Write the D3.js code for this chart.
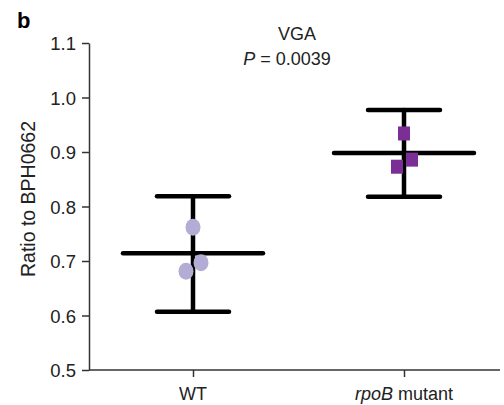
<!DOCTYPE html>
<html>
<head>
<meta charset="utf-8">
<script src="https://cdn.jsdelivr.net/npm/d3@7"></script>
<style>
	body { margin: 0; background: #fff; }
	text { font-family: "Liberation Sans", Arial, sans-serif; fill: #222; }
</style>
</head>
<body>
<div id="chart"></div>
<script>
const categories = ["WT", "rpoB mutant"];
const wtValues = [0.762, 0.697, 0.681];
const mutantValues = [0.934, 0.886, 0.873];
const means = [0.714, 0.898];
const upper = [0.819, 0.977];
const lower = [0.607, 0.818];
const yTicks = [0.5, 0.6, 0.7, 0.8, 0.9, 1.0, 1.1];

const width = 504, height = 405;
const plotLeft = 89, plotRight = 500, plotTop = 43, plotBottom = 370;

const svg = d3.select("#chart")
	.append("svg")
	.attr("width", width)
	.attr("height", height);

const y = d3.scaleLinear().domain([0.5, 1.1]).range([plotBottom, plotTop]);
const x = d3.scalePoint().domain(categories).range([193, 404]);

// y axis
const yAxis = svg.append("g")
	.attr("transform", `translate(${plotLeft},0)`)
	.call(d3.axisLeft(y).tickValues(yTicks).tickFormat(d3.format(".1f")).tickSize(7).tickSizeOuter(0));
yAxis.select(".domain").attr("stroke", "#333").attr("stroke-width", 1.5);
yAxis.selectAll(".tick line").attr("stroke", "#333").attr("stroke-width", 1.5);
yAxis.selectAll(".tick text")
	.attr("x", -13)
	.attr("dy", "0.36em")
	.style("font-size", "18.5px")
	.style("font-family", "Liberation Sans, Arial, sans-serif")
	.attr("fill", "#222");

// x axis
svg.append("line")
	.attr("x1", plotLeft).attr("x2", plotRight)
	.attr("y1", plotBottom).attr("y2", plotBottom)
	.attr("stroke", "#333").attr("stroke-width", 1.5);
const xAxis = svg.append("g")
	.attr("transform", `translate(0,${plotBottom})`)
	.call(d3.axisBottom(x).tickSize(7).tickSizeOuter(0).tickFormat(""));
xAxis.select(".domain").remove();
xAxis.selectAll(".tick line").attr("stroke", "#333").attr("stroke-width", 1.5);

// x labels (rpoB italic)
const xl = svg.append("g").selectAll("text")
	.data(categories)
	.enter()
	.append("text")
	.attr("x", (d) => x(d))
	.attr("y", 400)
	.attr("text-anchor", "middle")
	.style("font-size", "18px");
xl.each(function (d) {
	const t = d3.select(this);
	if (d.startsWith("rpoB")) {
		t.append("tspan").style("font-style", "italic").text("rpoB");
		t.append("tspan").text(d.slice(4));
	} else {
		t.text(d);
	}
});

// y label
svg.append("text")
	.attr("transform", "translate(35,199) rotate(-90)")
	.attr("text-anchor", "middle")
	.style("font-size", "19.5px")
	.text("Ratio to BPH0662");

// panel letter and titles
svg.append("text")
	.attr("x", 17).attr("y", 28)
	.style("font-size", "22px")
	.style("font-weight", "bold")
	.style("fill", "#000")
	.text("b");

svg.append("text")
	.attr("x", 297).attr("y", 40)
	.attr("text-anchor", "middle")
	.style("font-size", "18px")
	.text("VGA");

const pt = svg.append("text")
	.attr("x", 287).attr("y", 65)
	.attr("text-anchor", "middle")
	.style("font-size", "18px");
pt.append("tspan").style("font-style", "italic").text("P");
pt.append("tspan").text(" = 0.0039");

// error bars
const bars = svg.append("g")
	.selectAll("g")
	.data(categories)
	.enter()
	.append("g")
	.attr("stroke", "#000")
	.attr("stroke-width", 4.5)
	.attr("stroke-linecap", "round");

bars.append("line")
	.attr("x1", (d) => x(d)).attr("x2", (d) => x(d))
	.attr("y1", (d, i) => y(upper[i])).attr("y2", (d, i) => y(lower[i]));
bars.append("line")
	.attr("x1", (d) => x(d) - 36).attr("x2", (d) => x(d) + 36)
	.attr("y1", (d, i) => y(upper[i])).attr("y2", (d, i) => y(upper[i]));
bars.append("line")
	.attr("x1", (d) => x(d) - 36).attr("x2", (d) => x(d) + 36)
	.attr("y1", (d, i) => y(lower[i])).attr("y2", (d, i) => y(lower[i]));
bars.append("line")
	.attr("x1", (d) => x(d) - 70).attr("x2", (d) => x(d) + 70)
	.attr("y1", (d, i) => y(means[i])).attr("y2", (d, i) => y(means[i]));

// points
const jitter = [0, 8, -7];

svg.append("g")
	.selectAll("ellipse")
	.data(wtValues)
	.enter()
	.append("ellipse")
	.attr("cx", (d, i) => x(categories[0]) + jitter[i])
	.attr("cy", (d) => y(d))
	.attr("rx", 7.5)
	.attr("ry", 8.5)
	.attr("fill", "#b3acd5");

svg.append("g")
	.selectAll("rect")
	.data(mutantValues)
	.enter()
	.append("rect")
	.attr("x", (d, i) => x(categories[1]) + jitter[i] - 6)
	.attr("y", (d) => y(d) - 7)
	.attr("width", 12)
	.attr("height", 14)
	.attr("fill", "#7b2e95");
</script>
</body>
</html>
